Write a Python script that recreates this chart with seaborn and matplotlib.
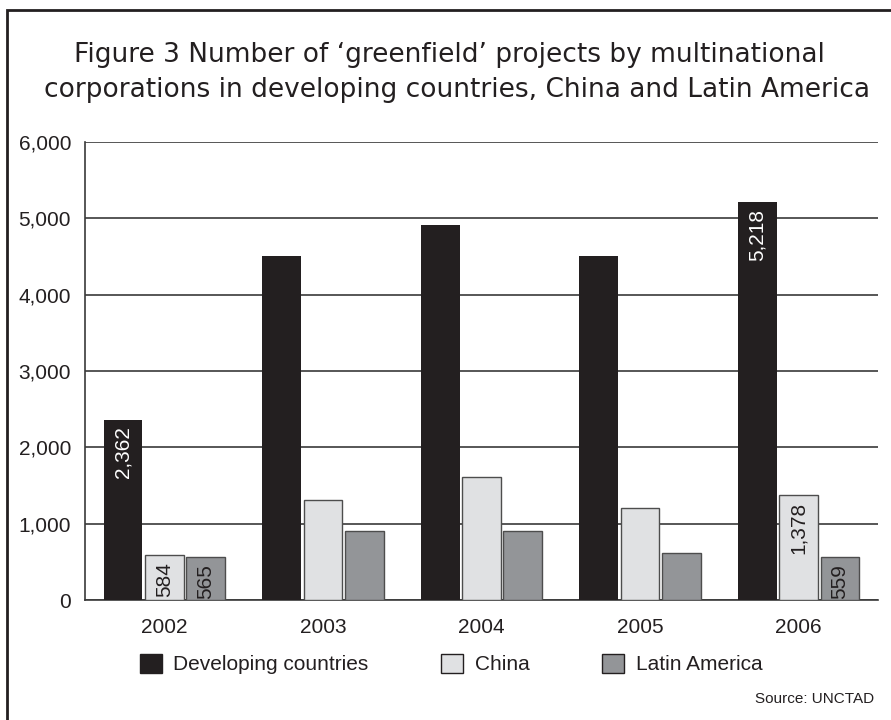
import pandas as pd
import matplotlib.pyplot as plt
import matplotlib.patches as mpatches
import seaborn as sns
sns.set_style("white")
plt.rcParams['font.family'] = ['Liberation Sans', 'DejaVu Sans']

years = ['2002', '2003', '2004', '2005', '2006']
developing = [2362, 4510, 4915, 4510, 5218]
china = [584, 1310, 1612, 1205, 1378]
latin = [565, 905, 905, 615, 559]
series = ['Developing countries', 'China', 'Latin America']
colors = ['#231f20', '#e0e1e3', '#939598']
ink = '#231f20'


def main():
    df = pd.DataFrame({
        'Year': years * 3,
        'Projects': developing + china + latin,
        'Group': [s for s in series for _ in years],
    })

    fig = plt.figure(figsize=(8.91, 7.2), dpi=100)
    ax = fig.add_axes([85 / 891, 1 - 600 / 720, 793 / 891, 458 / 720])
    sns.barplot(data=df, x='Year', y='Projects', hue='Group', palette=colors,
                width=0.78, gap=0.06, saturation=1, ax=ax, zorder=3)

    # edges: dark bars none, light ones thin grey
    for cont, col in zip(ax.containers, colors):
        for bar in cont:
            if col == colors[0]:
                bar.set_edgecolor(col)
                bar.set_linewidth(0)
            else:
                bar.set_edgecolor('#4d4d4d')
                bar.set_linewidth(1.0)

    # value labels only for 2002 and 2006
    for cont, vals, tc in zip(ax.containers, [developing, china, latin], ['white', ink, ink]):
        for i in (0, 4):
            bar = cont[i]
            x = bar.get_x() + bar.get_width() / 2
            ax.text(x, vals[i] - 90, f'{vals[i]:,}', rotation=90, ha='center', va='top',
                    color=tc, fontsize=15, zorder=4)

    ax.set_ylim(0, 6000)
    ax.set_xlim(-0.5, 4.5)
    ax.set_yticks(range(0, 6001, 1000))
    ax.set_yticklabels([f'{v:,}' for v in range(0, 6001, 1000)])
    ax.yaxis.grid(True, color='#3a3a3a', linewidth=1.2, zorder=0)
    ax.set_axisbelow(True)
    ax.set_xlabel('')
    ax.set_ylabel('')
    ax.tick_params(axis='y', length=0, pad=10, labelsize=15, labelcolor=ink)
    ax.tick_params(axis='x', which='major', length=0, pad=13, labelsize=15, labelcolor=ink)
    ax.set_xticks([-0.5, 0.5, 1.5, 2.5, 3.5, 4.5], minor=True)
    ax.tick_params(axis='x', which='minor', direction='in', length=9, width=1.2, color=ink)
    for s in ['top', 'right']:
        ax.spines[s].set_visible(False)
    for s in ['left', 'bottom']:
        ax.spines[s].set_color('#3a3a3a')
        ax.spines[s].set_linewidth(1.2)

    ax.get_legend().remove()
    hs = [mpatches.Patch(facecolor=c, edgecolor=ink if i else c, linewidth=1.0)
          for i, c in enumerate(colors)]
    fig.legend(hs, series, loc='center left', bbox_to_anchor=(121 / 891, 1 - 664 / 720),
               ncol=3, frameon=False, fontsize=15, handlelength=1.05, handleheight=1.05,
               handletextpad=0.55, columnspacing=3.5, labelcolor=ink)

    fig.text(0.5045, 1 - 62 / 720, "Figure 3 Number of \u2018greenfield\u2019 projects by multinational",
             ha='center', va='baseline', fontsize=19, color=ink, family='DejaVu Sans')
    fig.text(0.5125, 1 - 97 / 720, "corporations in developing countries, China and Latin America",
             ha='center', va='baseline', fontsize=19, color=ink, family='DejaVu Sans')
    fig.text(874 / 891, 1 - 699 / 720, 'Source: UNCTAD', ha='right', va='center',
             fontsize=11, color=ink)

    frame = mpatches.Rectangle((7 / 891, -0.05), 1.1, 1.05 - 10 / 720, transform=fig.transFigure,
                               fill=False, edgecolor=ink, linewidth=2, clip_on=False)
    fig.patches.append(frame)

    plt.savefig('out.png', dpi=100)


main()
